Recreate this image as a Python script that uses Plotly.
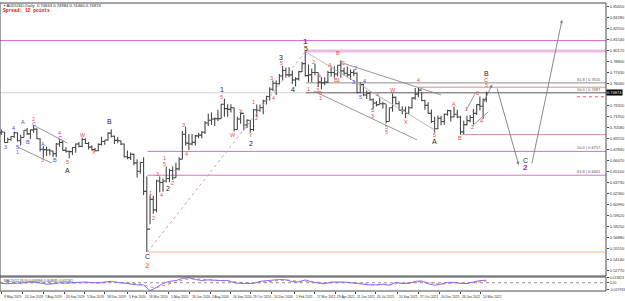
import pandas as pd
import plotly.graph_objects as go

# ---------------- data: AUDUSD weekly bars ----------------
week_start = "2019-05-08"
first_open = 0.6990
week_high = [
    0.7030, 0.7000, 0.6930, 0.6945, 0.7005, 0.6995, 0.6965, 0.7025, 0.7048, 0.7030,
    0.7082, 0.7045, 0.6920, 0.6825, 0.6815, 0.6790, 0.6766, 0.6863, 0.6895, 0.6890,
    0.6810, 0.6770, 0.6810, 0.6860, 0.6875, 0.6929, 0.6920, 0.6875, 0.6835, 0.6800,
    0.6860, 0.6940, 0.6900, 0.6995,
    0.7032, 0.6955, 0.6938, 0.6890, 0.6855, 0.6770, 0.6745, 0.6730, 0.6660, 0.6630,
    0.6685, 0.6445, 0.6213, 0.6205, 0.6405, 0.6445, 0.6420, 0.6570, 0.6540, 0.6570,
    0.6615, 0.6685, 0.7010, 0.7064, 0.6975, 0.6975, 0.6965, 0.6990, 0.7010, 0.7135,
    0.7230, 0.7240, 0.7180, 0.7275, 0.7350, 0.7414, 0.7345, 0.7345, 0.7305, 0.7190,
    0.7243, 0.7210, 0.7158, 0.7145, 0.7285, 0.7340, 0.7340, 0.7400, 0.7450, 0.7555,
    0.7640, 0.7640,
    0.7720, 0.7820, 0.7800, 0.7805, 0.7765, 0.7680, 0.7760, 0.7870, 0.8007, 0.7840,
    0.7790, 0.7849, 0.7740, 0.7680, 0.7680, 0.7760, 0.7815, 0.7817, 0.7830, 0.7891,
    0.7800, 0.7815, 0.7778, 0.7775, 0.7740, 0.7617, 0.7600, 0.7515, 0.7500, 0.7420,
    0.7385, 0.7425, 0.7375, 0.7345, 0.7300, 0.7478, 0.7440, 0.7380, 0.7318, 0.7315,
    0.7320, 0.7430, 0.7545, 0.7556, 0.7500, 0.7400, 0.7370, 0.7280, 0.7190, 0.7200,
    0.7200, 0.7230, 0.7277,
    0.7270, 0.7315, 0.7275, 0.7200, 0.7140, 0.7200, 0.7210, 0.7285, 0.7340, 0.7441,
    0.7420, 0.7499,
]
week_low = [
    0.6960, 0.6865, 0.6865, 0.6890, 0.6925, 0.6882, 0.6832, 0.6935, 0.6960, 0.6912,
    0.6990, 0.6910, 0.6755, 0.6677, 0.6700, 0.6705, 0.6688, 0.6687, 0.6815, 0.6770,
    0.6740, 0.6671, 0.6712, 0.6740, 0.6810, 0.6810, 0.6850, 0.6780, 0.6770, 0.6755,
    0.6760, 0.6830, 0.6840, 0.6890,
    0.6930, 0.6850, 0.6860, 0.6835, 0.6680, 0.6660, 0.6650, 0.6585, 0.6434, 0.6480,
    0.6215, 0.5506, 0.5850, 0.5980, 0.6000, 0.6250, 0.6255, 0.6375, 0.6372, 0.6402,
    0.6430, 0.6520, 0.6660, 0.6830, 0.6776, 0.6830, 0.6830, 0.6920, 0.6920, 0.6975,
    0.7075, 0.7085, 0.7075, 0.7135, 0.7165, 0.7190, 0.7190, 0.7240, 0.7006, 0.7030,
    0.7100, 0.7020, 0.7050, 0.6991, 0.7010, 0.7190, 0.7250, 0.7220, 0.7340, 0.7390,
    0.7510, 0.7460,
    0.7590, 0.7640, 0.7675, 0.7680, 0.7595, 0.7564, 0.7640, 0.7745, 0.7690, 0.7620,
    0.7620, 0.7705, 0.7560, 0.7532, 0.7580, 0.7610, 0.7690, 0.7675, 0.7690, 0.7675,
    0.7700, 0.7680, 0.7645, 0.7695, 0.7477, 0.7480, 0.7443, 0.7410, 0.7390, 0.7290,
    0.7315, 0.7345, 0.7290, 0.7106, 0.7135, 0.7250, 0.7340, 0.7270, 0.7220, 0.7170,
    0.7225, 0.7290, 0.7400, 0.7430, 0.7380, 0.7277, 0.7225, 0.7110, 0.6993, 0.7035,
    0.7083, 0.7090, 0.7200,
    0.7130, 0.7180, 0.7170, 0.6967, 0.6970, 0.7080, 0.7120, 0.7095, 0.7210, 0.7270,
    0.7165, 0.7370,
]
week_close = [
    0.6998, 0.6868, 0.6905, 0.6942, 0.6990, 0.6890, 0.6930, 0.7020, 0.6975, 0.7025,
    0.7035, 0.6915, 0.6785, 0.6780, 0.6775, 0.6762, 0.6730, 0.6850, 0.6870, 0.6770,
    0.6760, 0.6755, 0.6805, 0.6850, 0.6820, 0.6905, 0.6855, 0.6810, 0.6780, 0.6765,
    0.6845, 0.6880, 0.6900, 0.6985,
    0.6945, 0.6895, 0.6890, 0.6850, 0.6690, 0.6680, 0.6720, 0.6615, 0.6510, 0.6620,
    0.6260, 0.5790, 0.6160, 0.6030, 0.6390, 0.6370, 0.6390, 0.6420, 0.6520, 0.6430,
    0.6540, 0.6660, 0.6970, 0.6860, 0.6850, 0.6870, 0.6950, 0.6960, 0.6995, 0.7110,
    0.7145, 0.7160, 0.7165, 0.7165, 0.7345, 0.7290, 0.7280, 0.7300, 0.7030, 0.7160,
    0.7230, 0.7085, 0.7145, 0.7030, 0.7275, 0.7270, 0.7300, 0.7385, 0.7440, 0.7530,
    0.7605, 0.7600,
    0.7695, 0.7765, 0.7710, 0.7710, 0.7645, 0.7660, 0.7750, 0.7850, 0.7700, 0.7710,
    0.7740, 0.7740, 0.7620, 0.7610, 0.7620, 0.7740, 0.7740, 0.7720, 0.7830, 0.7760,
    0.7730, 0.7710, 0.7740, 0.7730, 0.7490, 0.7590, 0.7460, 0.7480, 0.7400, 0.7360,
    0.7340, 0.7350, 0.7350, 0.7130, 0.7300, 0.7430, 0.7350, 0.7270, 0.7270, 0.7230,
    0.7300, 0.7420, 0.7470, 0.7520, 0.7390, 0.7330, 0.7230, 0.7130, 0.7040, 0.7170,
    0.7130, 0.7220, 0.7265,
    0.7185, 0.7220, 0.7185, 0.7000, 0.7090, 0.7140, 0.7180, 0.7230, 0.7340, 0.7320,
    0.7400, 0.7487,
]

# MACD(12,26,9) panel, read every two weeks
macd_start = "2019-05-08"
macd_main = [
    -0.002, -0.003, -0.001, -0.001, 0.002, 0.002, -0.001, -0.004, -0.003, 0.000,
    -0.001, -0.001, 0.001, 0.002, 0.000, -0.001, 0.002,
    0.004, 0.001, -0.002, -0.004, -0.006, -0.006, -0.022, -0.013, -0.002, 0.004,
    0.006, 0.012, 0.014, 0.009, 0.006, 0.008, 0.006, 0.006, 0.006, 0.000, -0.002,
    -0.001, -0.002, 0.004, 0.006, 0.008, 0.009,
    0.008, 0.003, 0.002, 0.008, 0.002, -0.001, -0.003, 0.002, 0.003, 0.002, 0.000,
    -0.002, -0.006, -0.006, -0.006, -0.004, -0.007, 0.001, -0.002, -0.002, 0.004,
    0.005, -0.003, -0.007, -0.004, 0.001,
    0.001, -0.002, -0.002, 0.002, 0.006, 0.007,
]
macd_signal = [
    -0.001, -0.002, -0.002, -0.001, 0.000, 0.001, 0.001, -0.002, -0.003, -0.002,
    -0.001, -0.001, 0.000, 0.001, 0.001, 0.000, 0.001,
    0.002, 0.002, 0.000, -0.002, -0.004, -0.005, -0.012, -0.014, -0.008, -0.002,
    0.002, 0.007, 0.011, 0.011, 0.009, 0.008, 0.007, 0.006, 0.006, 0.003, 0.000,
    -0.001, -0.001, 0.001, 0.004, 0.006, 0.008,
    0.008, 0.006, 0.004, 0.005, 0.004, 0.001, -0.001, 0.000, 0.001, 0.002, 0.001,
    -0.001, -0.003, -0.005, -0.006, -0.005, -0.006, -0.003, -0.002, -0.002, 0.001,
    0.003, 0.001, -0.003, -0.004, -0.002,
    0.000, -0.001, -0.002, 0.000, 0.003, 0.005,
]

# price-axis tick labels and date labels
price_ticks = [0.85650, 0.84280, 0.82910, 0.81540, 0.80170, 0.78800, 0.77430, 0.76060,
               0.74690, 0.73320, 0.71950, 0.70580, 0.69210, 0.67840, 0.66470, 0.65100,
               0.63730, 0.62360, 0.60990, 0.59620, 0.58250, 0.56880, 0.55510, 0.54140,
               0.52770]
date_labels = ["9 May 2019", "24 Jun 2019", "7 Aug 2019", "20 Sep 2019", "5 Nov 2019",
               "18 Dec 2019", "5 Feb 2020", "18 Mar 2020", "5 May 2020", "18 Jun 2020",
               "3 Aug 2020", "16 Sep 2020", "29 Oct 2020", "14 Dec 2020", "1 Feb 2021",
               "17 Mar 2021", "29 Apr 2021", "11 Jun 2021", "26 Jul 2021", "10 Sep 2021",
               "27 Oct 2021", "10 Dec 2021", "26 Jan 2022", "10 Mar 2022"]
current_price = 0.74874
header_text = "AUDUSD,Daily  0.74663 0.74984 0.74460 0.74874"
spread_text = "Spread: 12 points"
macd_text = "MACD(12,26,9) 0.006996 0.004835 0.002161"

# horizontal levels: (price, start date, colour, width, dash)
levels = [
    (0.8136, "2019-05-06", "#cc66cc", 1, "solid"),
    (0.8007, "2021-02-25", "#ecbce6", 3, "solid"),
    (0.7610, "2021-02-25", "#8c8c8c", 1, "solid"),
    (0.7487, "2019-05-06", "#d0d0d0", 1, "solid"),
    (0.7487, "2021-02-25", "#6e6e6e", 1, "solid"),
    (0.7556, "2021-10-28", "#d49494", 1, "solid"),
    (0.6967, "2022-01-28", "#d49494", 1, "solid"),
    (0.6757, "2020-03-19", "#cc77cc", 1, "solid"),
    (0.6461, "2020-03-19", "#cc77cc", 1, "solid"),
    (0.5506, "2020-03-19", "#ffb483", 1, "solid"),
    (0.7437, "2022-10-05", "#ee5555", 1, "dot"),
]
fib_labels = [("61.8 | 0.7610", 0.7610), ("50.0 | 0.7487", 0.7487),
              ("50.0 | 0.6757", 0.6757), ("61.8 | 0.6461", 0.6461)]

# trend lines: (date0, price0, date1, price1, colour, dash)
trend_lines = [
    ("2019-07-19", 0.7074, "2019-09-27", 0.6862, "#8a8a8a", "solid"),
    ("2019-06-12", 0.6813, "2019-08-26", 0.6613, "#8a8a8a", "solid"),
    ("2021-05-10", 0.7870, "2021-12-15", 0.7460, "#8a8a8a", "solid"),
    ("2021-03-15", 0.7509, "2021-10-25", 0.6900, "#8a8a8a", "solid"),
    ("2021-02-25", 0.7995, "2021-12-01", 0.7024, "#b0b0b0", "solid"),
    ("2022-02-08", 0.7273, "2022-03-01", 0.7497, "#8a8a8a", "solid"),
    ("2022-02-21", 0.7074, "2022-03-28", 0.7248, "#8a8a8a", "solid"),
    ("2020-03-19", 0.5506, "2021-02-25", 0.8007, "#d98ad9", "dot"),
]
# projected path arrows: (from date, from price, to date, to price)
projection = [
    ("2022-03-14", 0.7320, "2022-04-05", 0.7590),
    ("2022-04-14", 0.7559, "2022-06-01", 0.6589),
    ("2022-06-29", 0.6589, "2022-09-02", 0.8393),
]

# Elliott wave labels: (date, price, text, colour key)
wave_labels = [
    ("2019-05-17", 0.6813, "3", "b"), ("2019-06-04", 0.7049, "4", "b"),
    ("2019-06-25", 0.7124, "A", "b"), ("2019-06-12", 0.6813, "5", "b"),
    ("2019-06-12", 0.6750, "1", "r"), ("2019-07-05", 0.6875, "B", "b"),
    ("2019-07-17", 0.7161, "2", "r"), ("2019-07-17", 0.7099, "C", "b"),
    ("2019-08-07", 0.6850, "A", "b"), ("2019-08-06", 0.6651, "3", "r"),
    ("2019-09-02", 0.6651, "B", "b"), ("2019-09-11", 0.6987, "4", "r"),
    ("2019-09-11", 0.6924, "C", "b"), ("2019-09-30", 0.6626, "5", "r"),
    ("2019-09-30", 0.6526, "A", "k"), ("2019-10-31", 0.6962, "W", "r"),
    ("2019-11-25", 0.6750, "X", "r"), ("2019-12-27", 0.7124, "B", "k"),
    ("2020-03-19", 0.5444, "C", "k"), ("2020-03-19", 0.5332, "2", "o"),
    ("2020-03-25", 0.6240, "1", "r"), ("2020-04-01", 0.5929, "2", "r"),
    ("2020-04-09", 0.6477, "3", "r"), ("2020-04-17", 0.6215, "4", "r"),
    ("2020-04-27", 0.6676, "1", "r"), ("2020-04-27", 0.6601, "5", "r"),
    ("2020-05-01", 0.6302, "2", "k"), ("2020-05-13", 0.6365, "2", "r"),
    ("2020-06-04", 0.7086, "3", "r"), ("2020-06-11", 0.6725, "4", "r"),
    ("2020-08-27", 0.7522, "1", "k"), ("2020-08-27", 0.7435, "5", "r"),
    ("2020-09-21", 0.6962, "W", "r"), ("2020-10-08", 0.7261, "X", "r"),
    ("2020-10-29", 0.6965, "Y", "r"), ("2020-10-29", 0.6855, "2", "k"),
    ("2020-11-04", 0.7372, "1", "r"), ("2020-11-10", 0.7173, "2", "r"),
    ("2020-12-14", 0.7671, "3", "r"), ("2020-12-17", 0.7422, "4", "r"),
    ("2021-01-04", 0.7920, "3", "k"), ("2021-01-04", 0.7858, "5", "r"),
    ("2021-01-28", 0.7522, "4", "k"), ("2021-02-25", 0.8131, "1", "p"),
    ("2021-02-25", 0.8044, "5", "k"), ("2021-03-03", 0.7534, "1", "r"),
    ("2021-03-15", 0.7870, "2", "r"), ("2021-03-23", 0.7522, "3", "r"),
    ("2021-03-26", 0.7696, "4", "r"), ("2021-03-30", 0.7484, "5", "r"),
    ("2021-03-30", 0.7422, "1", "r"), ("2021-04-19", 0.7833, "A", "r"),
    ("2021-05-06", 0.7982, "B", "r"), ("2021-05-17", 0.7858, "C", "r"),
    ("2021-04-30", 0.7646, "B", "r"), ("2021-05-07", 0.7646, "1", "r"),
    ("2021-06-14", 0.7795, "2", "b"), ("2021-06-08", 0.7621, "3", "b"),
    ("2021-07-02", 0.7634, "4", "b"), ("2021-06-24", 0.7435, "5", "b"),
    ("2021-07-30", 0.7460, "4", "r"), ("2021-07-20", 0.7273, "5", "b"),
    ("2021-07-20", 0.7198, "3", "r"), ("2021-08-18", 0.7061, "5", "r"),
    ("2021-08-18", 0.6999, "5", "r"), ("2021-09-02", 0.7522, "W", "r"),
    ("2021-09-29", 0.7124, "X", "r"), ("2021-10-27", 0.7646, "4", "r"),
    ("2021-12-01", 0.6962, "5", "r"), ("2021-12-01", 0.6875, "A", "k"),
    ("2022-01-12", 0.7348, "A", "r"), ("2022-01-26", 0.6924, "B", "r"),
    ("2022-02-08", 0.7285, "1", "r"), ("2022-02-21", 0.7061, "2", "r"),
    ("2022-03-03", 0.7484, "3", "r"), ("2022-03-14", 0.7136, "4", "r"),
    ("2022-03-23", 0.7584, "5", "r"), ("2022-03-23", 0.7646, "C", "r"),
    ("2022-03-23", 0.7721, "B", "k"), ("2022-06-15", 0.6638, "C", "k"),
    ("2022-06-15", 0.6551, "2", "p"),
]
label_style = {
    "r": ("#f04a4a", 5.5, False), "b": ("#4a4aff", 5.5, False),
    "k": ("#1e1e1e", 7, False), "p": ("#9a2a9a", 8, True), "o": ("#ff8a3a", 8, True),
}

x_start, x_end = "2019-05-06", "2022-12-07"
y_range = [0.5207, 0.8604]
macd_range = [-0.023, 0.016]

# ---------------- figure ----------------
weeks = pd.date_range(week_start, periods=len(week_close), freq="W-WED")
week_open = [first_open] + week_close[:-1]
macd_dates = pd.date_range(macd_start, periods=len(macd_main), freq="2W-WED")
label_dates = [pd.to_datetime(s, format="%d %b %Y") for s in date_labels]
# the tick hidden behind the current-price box carries no text
price_tick_text = ["" if abs(v - current_price) < 0.004 else f"{v:.5f}" for v in price_ticks]

fig = go.Figure()
fig.add_trace(go.Ohlc(
    x=weeks, open=week_open, high=week_high, low=week_low, close=week_close,
    increasing=dict(line=dict(color="#474747", width=1.1)),
    decreasing=dict(line=dict(color="#474747", width=1.1)),
    tickwidth=0.4, hoverinfo="skip", xaxis="x", yaxis="y"))
fig.add_trace(go.Scatter(x=[x_start, x_end], y=[0, 0], mode="lines", yaxis="y2",
                         line=dict(color="#777", width=0.8, dash="dot"), hoverinfo="skip"))
fig.add_trace(go.Scatter(x=macd_dates, y=macd_signal, mode="lines", yaxis="y2",
                         line=dict(color="#ee5555", width=0.8, dash="dot"), hoverinfo="skip"))
fig.add_trace(go.Scatter(x=macd_dates, y=macd_main, mode="lines", yaxis="y2",
                         line=dict(color="#8a6cf0", width=1), hoverinfo="skip"))

shapes = []
for price, d0, col, w, dash in levels:
    shapes.append(dict(type="line", xref="x", yref="y", x0=d0, x1=x_end, y0=price, y1=price,
                       line=dict(color=col, width=w, dash=dash), layer="below"))
for d0, p0, d1, p1, col, dash in trend_lines:
    shapes.append(dict(type="line", xref="x", yref="y", x0=d0, x1=d1, y0=p0, y1=p1,
                       line=dict(color=col, width=0.9, dash=dash)))
shapes.append(dict(type="rect", xref="paper", yref="y domain", x0=0, x1=1, y0=0, y1=1,
                   line=dict(color="#4a4a4a", width=1)))
shapes.append(dict(type="rect", xref="paper", yref="y2 domain", x0=0, x1=1, y0=0, y1=1,
                   line=dict(color="#4a4a4a", width=1)))

ann = []
for d, p, t, key in wave_labels:
    col, size, bold = label_style[key]
    txt = f"<b>{t}</b>" if bold else t
    ann.append(dict(x=d, y=p, xref="x", yref="y", text=txt, showarrow=False,
                    font=dict(family="Liberation Sans", size=size, color=col)))
for d0, p0, d1, p1 in projection:
    ann.append(dict(x=d1, y=p1, ax=d0, ay=p0, xref="x", yref="y", axref="x", ayref="y",
                    text="", showarrow=True, arrowhead=2, arrowsize=0.7, arrowwidth=0.9,
                    arrowcolor="#7a7a7a"))
for t, p in fib_labels:
    ann.append(dict(x=0.995, y=p, xref="paper", yref="y", text=t, showarrow=False,
                    xanchor="right", yanchor="bottom", yshift=-1,
                    font=dict(family="Liberation Sans", size=4, color="#555")))
for s, d in zip(date_labels, label_dates):
    ann.append(dict(x=d, y=0, xref="x", yref="paper", text=s, showarrow=False,
                    xanchor="left", yanchor="top", yshift=-2,
                    font=dict(family="Liberation Sans", size=3.3, color="#333")))
ann.append(dict(x=1, y=current_price, xref="paper", yref="y", text=f"{current_price:.5f}",
                showarrow=False, xanchor="left", xshift=0, bgcolor="#000000", borderpad=0,
                font=dict(family="Liberation Sans", size=4, color="#ffffff")))
ann.append(dict(x=0, y=1, xref="paper", yref="paper", text="\u25aa " + header_text,
                showarrow=False, xanchor="left", yanchor="top", xshift=2, yshift=2,
                font=dict(family="Liberation Sans", size=4.2, color="#222")))
ann.append(dict(x=0, y=1, xref="paper", yref="paper", text=f"<b>{spread_text}</b>",
                showarrow=False, xanchor="left", yanchor="top", xshift=1, yshift=-3,
                font=dict(family="Liberation Mono", size=4.6, color="#ff0000")))
ann.append(dict(x=0, y=1, xref="paper", yref="y2 domain", text=macd_text,
                showarrow=False, xanchor="left", yanchor="top", xshift=2,
                font=dict(family="Liberation Sans", size=3.4, color="#333")))

fig.update_layout(
    width=625, height=301, margin=dict(l=0, r=14, t=3, b=10),
    paper_bgcolor="white", plot_bgcolor="white", showlegend=False, hovermode=False,
    shapes=shapes, annotations=ann,
    xaxis=dict(type="date", range=[x_start, x_end], anchor="y2",
               rangebreaks=[dict(bounds=["sat", "mon"])], rangeslider=dict(visible=False),
               showgrid=False, zeroline=False, showline=False, showticklabels=False,
               tickvals=label_dates, ticks="outside", ticklen=2, tickcolor="#444"),
    yaxis=dict(domain=[0.0521, 1], range=y_range, side="right", anchor="x",
               showgrid=False, zeroline=False, showline=False,
               tickvals=price_ticks, ticktext=price_tick_text,
               ticks="outside", ticklen=2, tickcolor="#444",
               tickfont=dict(family="Liberation Sans", size=4, color="#333")),
    yaxis2=dict(domain=[0, 0.0486], range=macd_range, side="right", anchor="x",
                showgrid=False, zeroline=False, showline=False,
                tickvals=[0.0138, 0.0, -0.0198], ticktext=["0.013823", "0.00", "-0.019763"],
                ticks="outside", ticklen=2, tickcolor="#444",
                tickfont=dict(family="Liberation Sans", size=3.4, color="#333")),
)

fig.write_html("out.html")
